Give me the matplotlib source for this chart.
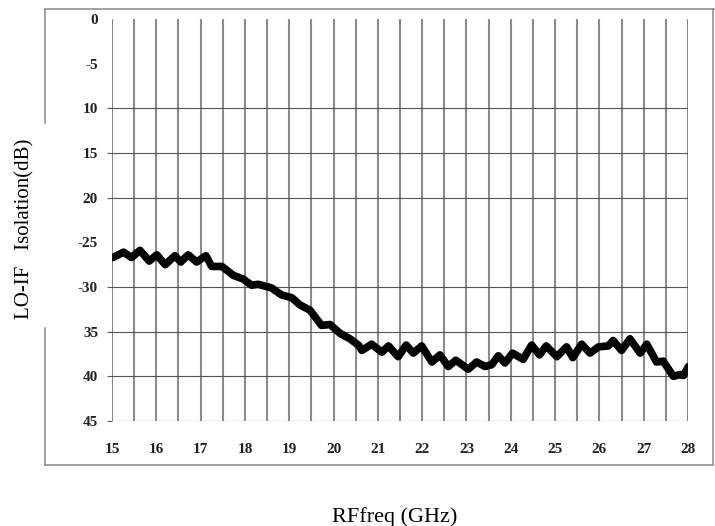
import matplotlib
matplotlib.use("Agg")
import matplotlib.pyplot as plt
from matplotlib.lines import Line2D
from matplotlib.ticker import FixedLocator

# traced LO-IF isolation curve (GHz, dB)
freq_ghz = [
    15.02, 15.26, 15.44, 15.63, 15.84, 16.01, 16.20, 16.42, 16.55, 16.72,
    16.91, 17.12, 17.25, 17.48, 17.74, 17.96, 18.15, 18.30, 18.60, 18.83,
    19.06, 19.24, 19.47, 19.73, 19.92, 20.15, 20.37, 20.56, 20.64, 20.86,
    21.09, 21.24, 21.46, 21.64, 21.80, 21.99, 22.22, 22.40, 22.59, 22.76,
    23.04, 23.23, 23.42, 23.57, 23.72, 23.87, 24.04, 24.28, 24.47, 24.65,
    24.80, 25.04, 25.26, 25.40, 25.60, 25.79, 25.98, 26.20, 26.31, 26.50,
    26.69, 26.92, 27.07, 27.29, 27.44, 27.67, 27.82, 27.90, 28.01,
]
isolation_db = [
    -26.7, -26.1, -26.7, -25.9, -27.1, -26.4, -27.5, -26.5, -27.2, -26.4,
    -27.2, -26.5, -27.7, -27.7, -28.7, -29.1, -29.8, -29.7, -30.1, -30.9,
    -31.2, -32.0, -32.6, -34.3, -34.2, -35.2, -35.8, -36.5, -37.1, -36.4,
    -37.3, -36.6, -37.8, -36.5, -37.4, -36.6, -38.4, -37.6, -38.9, -38.2,
    -39.2, -38.4, -38.9, -38.7, -37.7, -38.5, -37.4, -38.1, -36.5, -37.6,
    -36.6, -37.8, -36.7, -37.9, -36.4, -37.4, -36.7, -36.6, -36.0, -37.1,
    -35.8, -37.4, -36.4, -38.4, -38.3, -40.0, -39.8, -39.9, -38.9,
]

x_major = list(range(15, 29))
x_minor = [15.5 + i for i in range(13)]
y_ticks = [0, -5, -10, -15, -20, -25, -30, -35, -40, -45]
y_labels = ["0", "-5", "10", "15", "20", "-25", "-30", "35", "40", "45"]
h_grid = [-10, -15, -20, -30, -35, -40, -45]

W, H = 715, 526


def fx(px):
    return px / W


def fy(py):
    return 1 - py / H


fig = plt.figure(figsize=(W / 100, H / 100), dpi=100)
ax = fig.add_axes([fx(112), fy(421), fx(688) - fx(112), fy(19) - fy(421)])

ax.plot(freq_ghz, isolation_db, color="black", lw=5.5,
        solid_joinstyle="round", solid_capstyle="round", zorder=3)

ax.set_xlim(15, 28)
ax.set_ylim(-45, 0)

ax.xaxis.set_major_locator(FixedLocator(x_major))
ax.xaxis.set_minor_locator(FixedLocator(x_minor))
ax.set_xticklabels([str(v) for v in x_major])
ax.grid(axis="x", which="both", color="#8c8c8c", lw=1.5, zorder=1)

# horizontal grid only at some levels -> minor ticks sitting on majors
ax.yaxis.remove_overlapping_locs = False
ax.yaxis.set_major_locator(FixedLocator(y_ticks))
ax.set_yticklabels(y_labels)
ax.yaxis.set_minor_locator(FixedLocator(h_grid))
ax.grid(axis="y", which="minor", color="#555555", lw=0.8, zorder=1)

for lab in ax.get_xticklabels() + ax.get_yticklabels():
    lab.set_fontfamily("Liberation Serif")
    lab.set_fontweight("bold")
    lab.set_fontsize(11)
    lab.set_color("#222222")

ax.tick_params(axis="x", which="both", length=0, pad=16)
ax.tick_params(axis="y", which="major", length=0, pad=10)
ax.tick_params(axis="y", which="minor", length=3.6, width=0.8,
               color="#555555", direction="out")

for sp in ax.spines.values():
    sp.set_visible(False)

# outer frame with a gap behind the y label
frame_kw = dict(color="#8a8a8a", lw=1.1, transform=fig.transFigure)
fig.add_artist(Line2D([fx(45), fx(715)], [fy(9), fy(9)], **frame_kw))
fig.add_artist(Line2D([fx(45), fx(713)], [fy(465), fy(465)], **frame_kw))
fig.add_artist(Line2D([fx(713), fx(713)], [fy(9), fy(465)], **frame_kw))
fig.add_artist(Line2D([fx(45), fx(45)], [fy(9), fy(123)], **frame_kw))
fig.add_artist(Line2D([fx(45), fx(45)], [fy(328), fy(465)], **frame_kw))

fig.text(fx(25), fy(229), "LO-IF   Isolation(dB)", rotation=90,
         ha="center", va="center", fontsize=15, family="Liberation Serif")
fig.text(fx(395), fy(517), "RFfreq (GHz)", ha="center", va="center",
         fontsize=16, family="Liberation Serif")

fig.savefig("out.png", dpi=100)
